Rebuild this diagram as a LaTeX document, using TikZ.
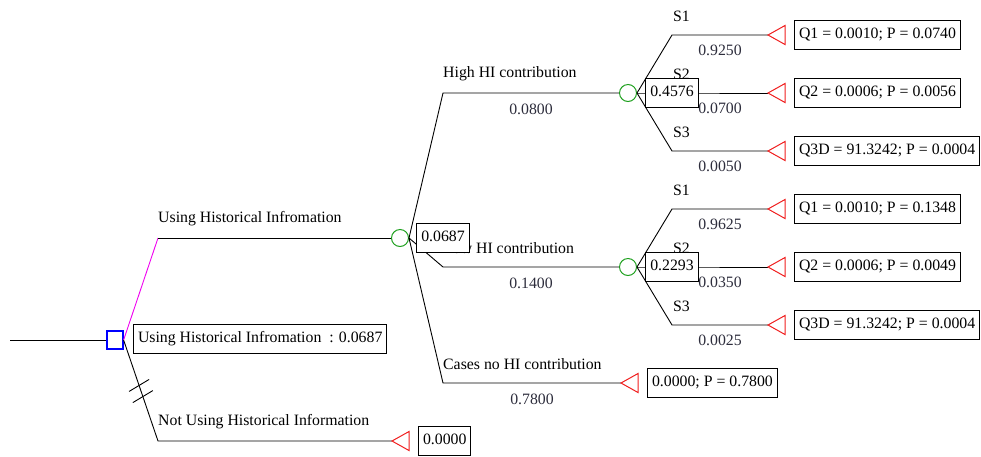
\documentclass[tikz,border=0pt]{standalone}
\usepackage{fontspec}
\setmainfont{Liberation Serif}
\usetikzlibrary{calc}
\definecolor{chancegreen}{RGB}{30,160,30}
\definecolor{endred}{RGB}{240,30,30}
\definecolor{probgray}{RGB}{45,45,60}
\definecolor{usepink}{RGB}{240,0,240}
\begin{document}
\begin{tikzpicture}[
        x=1pt, y=-1pt,
        every node/.style={font=\fontsize{15.8}{18}\selectfont},
        decision/.style={rectangle, draw=blue, minimum width=16pt, minimum height=18pt, inner sep=0pt, line width=1.2pt},
        chance/.style={circle, draw=chancegreen, minimum size=17pt, inner sep=0pt, line width=1pt},
        valbox/.style={rectangle, draw=black, fill=white, inner xsep=4.5pt, inner ysep=7pt, text height=11pt, text depth=3.5pt, line width=1pt},
        branch/.style={-, black, line width=0.9pt},
        endmark/.style={draw=endred, line width=1pt},
        brtext/.style={anchor=west, inner sep=0pt},
        probtext/.style={inner sep=0pt, text=probgray}
    ]
        \useasboundingbox (0,0) rectangle (981,456);

        % Decision and chance nodes
        \node[decision] (dec) at (115,340) {};
        \node[chance] (c1) at (400,238) {};
        \node[chance] (c2) at (628,93) {};
        \node[chance] (c3) at (628,267) {};

        % Bends and end points
        \coordinate (root) at (10,340);
        \coordinate (use) at (158,238);
        \coordinate (nouse) at (158,441);
        \coordinate (nouseend) at (392,441);
        \coordinate (high) at (443,93);
        \coordinate (low) at (443,267);
        \coordinate (none) at (443,383);
        \coordinate (noneend) at (621,383);

        % Branches of the decision
        \draw[branch] (root) -- (dec.west);
        \draw[branch, usepink] (dec.east) -- (use);
        \draw[branch] (use) -- (c1.west);
        \draw[branch] (dec.east) -- (nouse) -- (nouseend);
        \draw[branch] ($(dec.east)!0.45!(nouse)+(-10,6)$) -- ($(dec.east)!0.45!(nouse)+(10,-6)$);
        \draw[branch] ($(dec.east)!0.56!(nouse)+(-10,6)$) -- ($(dec.east)!0.56!(nouse)+(10,-6)$);

        % Branches of the first chance node
        \draw[branch] (c1.east) -- (high) -- (c2.west);
        \draw[branch] (c1.east) -- (low) -- (c3.west);
        \draw[branch] (c1.east) -- (none) -- (noneend);

        % End points
        \foreach \t in {nouseend, noneend} {
            \draw[endmark] (\t) -- ++(17,-9.5) -- ++(0,19) -- cycle;
        }

        % Branch texts
        \node[brtext] (tuse) at ($(use)+(0,-19)$) {Using Historical Infromation};
        \node[brtext] (tnouse) at ($(nouse)+(0,-19)$) {Not Using Historical Information};
        \node[brtext] (thigh) at ($(high)+(0,-19)$) {High HI contribution};
        \node[brtext] (tlow) at ($(low)+(0,-19)$) {Low HI contribution};
        \node[brtext] (tnone) at ($(none)+(0,-19)$) {Cases no HI contribution};
        \node[probtext] (phigh) at ($(high)!0.5!(c2.west)+(0,16)$) {0.0800};
        \node[probtext] (plow) at ($(low)!0.5!(c3.west)+(0,16)$) {0.1400};
        \node[probtext] (pnone) at ($(none)!0.5!(noneend)+(0,16)$) {0.7800};

        % Outcomes after high contribution
        \foreach \k/\dy/\p/\q in {1/-58/0.9250/{Q1 = 0.0010; P = 0.0740},
                                  2/0/0.0700/{Q2 = 0.0006; P = 0.0056},
                                  3/58/0.0050/{Q3D = 91.3242; P = 0.0004}} {
            \coordinate (hb\k) at ($(c2)+(44,\dy)$);
            \coordinate (ht\k) at ($(c2)+(140,\dy)$);
            \draw[branch] (c2.east) -- (hb\k) -- (ht\k);
            \draw[endmark] (ht\k) -- ++(17,-9.5) -- ++(0,19) -- cycle;
            \node[brtext] (hs\k) at ($(hb\k)+(1,-19)$) {S\k};
            \node[probtext] (hp\k) at ($(hb\k)!0.5!(ht\k)+(0,15)$) {\p};
            \node[valbox, anchor=west] (hq\k) at ($(ht\k)+(26,0)$) {\q};
        }

        % Outcomes after low contribution
        \foreach \k/\dy/\p/\q in {1/-58/0.9625/{Q1 = 0.0010; P = 0.1348},
                                  2/0/0.0350/{Q2 = 0.0006; P = 0.0049},
                                  3/58/0.0025/{Q3D = 91.3242; P = 0.0004}} {
            \coordinate (lb\k) at ($(c3)+(44,\dy)$);
            \coordinate (lt\k) at ($(c3)+(140,\dy)$);
            \draw[branch] (c3.east) -- (lb\k) -- (lt\k);
            \draw[endmark] (lt\k) -- ++(17,-9.5) -- ++(0,19) -- cycle;
            \node[brtext] (ls\k) at ($(lb\k)+(1,-19)$) {S\k};
            \node[probtext] (lp\k) at ($(lb\k)!0.5!(lt\k)+(0,15)$) {\p};
            \node[valbox, anchor=west] (lq\k) at ($(lt\k)+(26,0)$) {\q};
        }

        % Expected values
        \node[valbox, anchor=west] (vdec) at (133,339) {Using Historical Infromation~~: 0.0687};
        \node[valbox] (v1) at (low |- c1) {0.0687};
        \node[valbox] (v2) at (hb2) {0.4576};
        \node[valbox] (v3) at (lb2) {0.2293};
        \node[valbox, anchor=west] (vnouse) at ($(nouseend)+(26,0)$) {0.0000};
        \node[valbox, anchor=west] (vnone) at ($(noneend)+(26,0)$) {0.0000; P = 0.7800};
    \end{tikzpicture}
\end{document}
